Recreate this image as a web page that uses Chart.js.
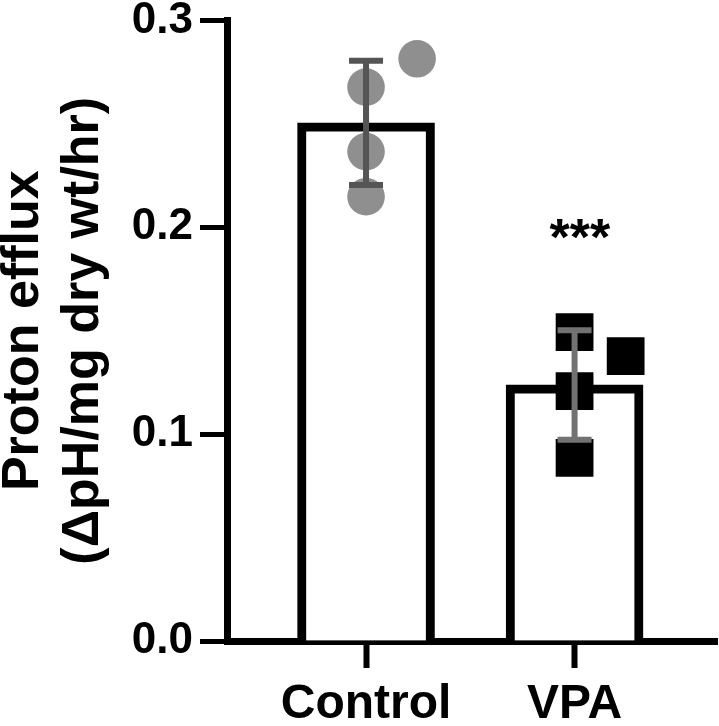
<!DOCTYPE html>
<html>
<head>
<meta charset="utf-8">
<script src="https://cdn.jsdelivr.net/npm/chart.js@4/dist/chart.umd.min.js"></script>
<style>
	html, body { margin: 0; padding: 0; background: #fff; }
	#wrap { width: 719px; height: 726px; }
</style>
</head>
<body>
<div id="wrap"><canvas id="chart"></canvas></div>
<script>
	'use strict';

	const CATEGORIES = [ 'Control', 'VPA' ];
	const MEANS = [ 0.2505, 0.1238 ];
	const SDS = [ 0.0300, 0.0265 ];
	const CONTROL_VALUES = [ 0.2815, 0.2678, 0.2366, 0.2148 ];
	const VPA_VALUES = [ 0.1377, 0.1493, 0.1208, 0.0885 ];
	const JITTER = [ 0.245, 0, 0, 0 ];
	const Y_TICKS = [ 0, 0.1, 0.2, 0.3 ];
	const SIG_LABELS = [ '', '***' ];

	const FONT = 'Liberation Sans, Arial, sans-serif';

	function toPoints( values, index ) {
		return values.map( function ( v, i ) {
			return { x: index + JITTER[ i ], y: v };
		} );
	}

	// error bars + significance stars, drawn on top of the datasets
	const errorBars = {
		id: 'errorBars',
		afterDatasetsDraw: function ( chart, args, opts ) {
			const ctx = chart.ctx;
			const x = chart.scales.x;
			const y = chart.scales.y;

			MEANS.forEach( function ( mean, i ) {
				const px = x.getPixelForValue( i );
				const top = y.getPixelForValue( mean + SDS[ i ] );
				const bottom = y.getPixelForValue( mean - SDS[ i ] );
				const half = opts.capWidth / 2;

				ctx.save();
				ctx.strokeStyle = opts.colors[ i ];
				ctx.lineWidth = opts.lineWidth;
				ctx.beginPath();
				ctx.moveTo( px, top );
				ctx.lineTo( px, bottom );
				ctx.moveTo( px - half, top );
				ctx.lineTo( px + half, top );
				ctx.moveTo( px - half, bottom );
				ctx.lineTo( px + half, bottom );
				ctx.stroke();

				if ( SIG_LABELS[ i ] ) {
					ctx.fillStyle = '#000';
					ctx.font = 'bold ' + opts.sigSize + 'px ' + FONT;
					ctx.textAlign = 'center';
					ctx.textBaseline = 'alphabetic';
					ctx.fillText( SIG_LABELS[ i ], x.getPixelForValue( i + opts.sigShift ), y.getPixelForValue( opts.sigY ) );
				}
				ctx.restore();
			} );
		},
	};

	new Chart( document.getElementById( 'chart' ), {
		type: 'bar',
		data: {
			datasets: [
				{
					type: 'bar',
					data: MEANS.map( function ( m, i ) {
						return { x: i, y: m };
					} ),
					backgroundColor: '#ffffff',
					borderColor: '#000000',
					borderWidth: 9,
					barThickness: 137,
					order: 3,
				},
				{
					type: 'scatter',
					data: toPoints( CONTROL_VALUES, 0 ),
					pointStyle: 'circle',
					pointRadius: 18.8,
					backgroundColor: '#8f8f8f',
					borderWidth: 0,
					order: 1,
				},
				{
					type: 'scatter',
					data: toPoints( VPA_VALUES, 1 ),
					pointStyle: 'rect',
					pointRadius: 26.7,
					backgroundColor: '#000000',
					borderWidth: 0,
					order: 1,
				},
			],
		},
		options: {
			responsive: true,
			maintainAspectRatio: false,
			animation: false,
			devicePixelRatio: 1,
			layout: {
				autoPadding: false,
				padding: { top: 20.5, right: 2, left: 0, bottom: 0 },
			},
			plugins: {
				legend: { display: false },
				tooltip: { enabled: false },
				errorBars: {
					colors: [ '#555555', '#727272' ],
					lineWidth: 6,
					capWidth: 34,
					sigSize: 52,
					sigY: 0.1865,
					sigShift: 0.025,
				},
			},
			scales: {
				x: {
					type: 'linear',
					offset: false,
					min: -0.6667,
					max: 1.683,
					afterBuildTicks: function ( scale ) {
						scale.ticks = CATEGORIES.map( function ( c, i ) {
							return { value: i };
						} );
					},
					afterFit: function ( scale ) {
						scale.height = 85;
						scale.paddingLeft = 0;
						scale.paddingRight = 0;
					},
					grid: {
						offset: false,
						drawOnChartArea: false,
						drawTicks: true,
						tickLength: 27,
						tickWidth: 6,
						tickColor: '#000',
					},
					border: { display: true, width: 7, color: '#000' },
					ticks: {
						autoSkip: false,
						maxRotation: 0,
						padding: 8,
						color: '#000',
						font: { family: FONT, size: 48, weight: 'bold' },
						callback: function ( value ) {
							return CATEGORIES[ value ];
						},
					},
				},
				y: {
					min: 0,
					max: 0.3,
					afterBuildTicks: function ( scale ) {
						scale.ticks = Y_TICKS.map( function ( v ) {
							return { value: v };
						} );
					},
					afterFit: function ( scale ) {
						scale.width = 227;
						scale.paddingTop = 0;
						scale.paddingBottom = 0;
					},
					grid: {
						drawOnChartArea: false,
						drawTicks: true,
						tickLength: 27,
						tickWidth: 5,
						tickColor: '#000',
					},
					border: { display: true, width: 7, color: '#000' },
					ticks: {
						autoSkip: false,
						padding: 7,
						color: '#000',
						font: { family: FONT, size: 44, weight: 'bold' },
						callback: function ( value ) {
							return value.toFixed( 1 );
						},
					},
					title: {
						display: true,
						text: [ 'Proton efflux', '(ΔpH/mg dry wt/hr)' ],
						color: '#000',
						padding: { top: -6, bottom: 0 },
						font: { family: FONT, size: 52, weight: 'bold', lineHeight: 1.154 },
					},
				},
			},
		},
		plugins: [ errorBars ],
	} );
</script>
</body>
</html>
